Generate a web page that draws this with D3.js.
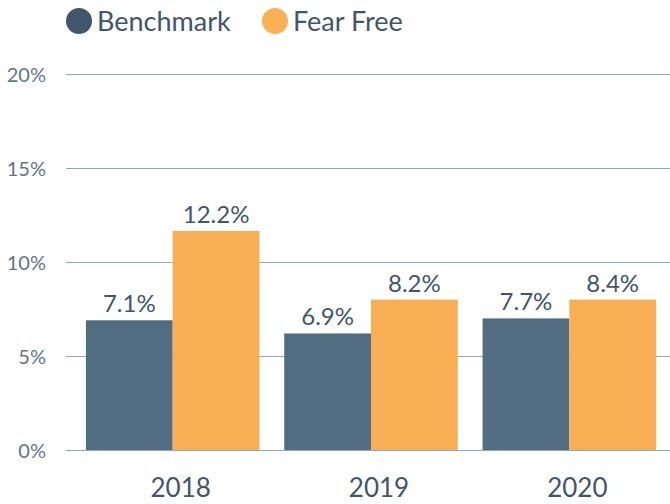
<!DOCTYPE html>
<html>
<head>
<meta charset="utf-8">
<script src="https://cdn.jsdelivr.net/npm/d3@7"></script>
<style>
  body { margin: 0; background: #fff; }
  svg text { font-family: Lato, "Open Sans", sans-serif; }
</style>
</head>
<body>
<svg id="svg" width="670" height="504"></svg>
<script>
// values (percent)
var years = ["2018", "2019", "2020"];
var series = ["Benchmark", "Fear Free"];
var benchmark = [6.9, 6.2, 7.0];
var fearFree = [11.65, 8.0, 8.0];
// printed labels above the bars
var benchmarkLabels = ["7.1%", "6.9%", "7.7%"];
var fearFreeLabels = ["12.2%", "8.2%", "8.4%"];
var yTicks = [0, 5, 10, 15, 20];

var colors = { "Benchmark": "#526c81", "Fear Free": "#f8ae55" };
var legendColors = { "Benchmark": "#3f566b", "Fear Free": "#f8b155" };
var textColor = "#40566b";

var svg = d3.select("#svg");

var x0 = d3.scaleBand().domain(years).range([74, 668]).paddingInner(0.125).paddingOuter(0.06);
var x1 = d3.scaleBand().domain(series).range([0, x0.bandwidth()]);
var y = d3.scaleLinear().domain([0, 20]).range([450, 74]);

// gridlines
svg.append("g")
    .selectAll("line")
    .data(yTicks)
    .enter()
    .append("line")
    .attr("x1", 66)
    .attr("x2", 670)
    .attr("y1", function(d) { return y(d) + 0.5; })
    .attr("y2", function(d) { return y(d) + 0.5; })
    .attr("stroke", "#87abc2")
    .attr("stroke-width", 1.2);

// y axis labels
var yAxis = d3.axisLeft(y).tickValues(yTicks).tickSize(0).tickPadding(0)
    .tickFormat(function(d) { return d + "%"; });
var yg = svg.append("g").attr("transform", "translate(46,0)").call(yAxis);
yg.select(".domain").remove();
yg.selectAll("text")
    .attr("fill", "#5f7589")
    .style("font-size", "20px")
    .attr("dy", "0.35em");

var rows = years.map(function(yr, i) {
    return [
        { year: yr, key: "Benchmark", value: benchmark[i], label: benchmarkLabels[i] },
        { year: yr, key: "Fear Free", value: fearFree[i], label: fearFreeLabels[i] }
    ];
});

var groups = svg.selectAll(".group")
    .data(rows)
    .enter()
    .append("g")
    .attr("class", "group")
    .attr("transform", function(d) { return "translate(" + x0(d[0].year) + ",0)"; });

groups.selectAll("rect")
    .data(function(d) { return d; })
    .enter()
    .append("rect")
    .attr("x", function(d) { return x1(d.key); })
    .attr("width", x1.bandwidth())
    .attr("y", function(d) { return y(d.value); })
    .attr("height", function(d) { return y(0) - y(d.value); })
    .attr("fill", function(d) { return colors[d.key]; });

groups.selectAll("text.val")
    .data(function(d) { return d; })
    .enter()
    .append("text")
    .attr("class", "val")
    .attr("x", function(d) { return x1(d.key) + x1.bandwidth() / 2; })
    .attr("y", function(d) { return y(d.value) - 8; })
    .attr("text-anchor", "middle")
    .attr("fill", textColor)
    .style("font-size", "24px")
    .text(function(d) { return d.label; });

// x axis labels (sit a little right of the group centre)
var xAxis = d3.axisBottom(x0).tickSize(0).tickPadding(0);
var xg = svg.append("g").attr("transform", "translate(8,497)").call(xAxis);
xg.select(".domain").remove();
xg.selectAll("text")
    .attr("fill", textColor)
    .attr("dy", 0)
    .style("font-size", "26px");

// legend
var legend = svg.selectAll(".legend")
    .data(series)
    .enter()
    .append("g")
    .attr("class", "legend")
    .attr("transform", function(d, i) { return "translate(" + (79 + i * 196) + ",21)"; });

legend.append("circle")
    .attr("r", 13)
    .attr("fill", function(d) { return legendColors[d]; });

legend.append("text")
    .attr("x", 18)
    .attr("y", 10)
    .attr("fill", textColor)
    .style("font-size", "27px")
    .text(function(d) { return d; });
</script>
</body>
</html>
